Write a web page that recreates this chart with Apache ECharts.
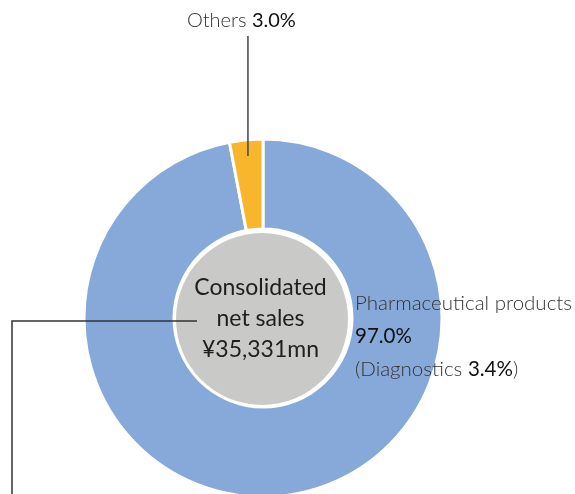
<!DOCTYPE html>
<html>
<head>
<meta charset="utf-8">
<script src="https://cdn.jsdelivr.net/npm/echarts@6/dist/echarts.min.js"></script>
<style>
  html, body { margin: 0; padding: 0; background: #fff; }
  #chart { width: 575px; height: 494px; }
</style>
</head>
<body>
<div id="chart"></div>
<script>
// Segment breakdown of consolidated net sales
const segmentNames = ['Pharmaceutical products', 'Others'];
const segmentShares = [97.0, 3.0];
const diagnosticsShare = 3.4;
const totalSalesText = '¥35,331mn';
const segmentColors = ['#86A9D9', '#F8B62D'];

const FONT = 'Lato';
const cx = 263, cy = 318, rOuter = 179, rInner = 89, rCore = 86;

const chart = echarts.init(document.getElementById('chart'), null, { renderer: 'canvas' });

// Angle (degrees clockwise from 12 o'clock) of the middle of the "Others" slice
const totalShare = segmentShares.reduce((a, b) => a + b, 0);
const othersMid = (segmentShares[0] + segmentShares[1] / 2) / totalShare * 360;
const leaderX = cx + 160 * Math.sin(othersMid * Math.PI / 180);

chart.setOption({
  animation: false,
  series: [
    {
      type: 'pie',
      center: [cx, cy],
      radius: [rInner, rOuter],
      startAngle: 90,
      clockwise: true,
      silent: true,
      z: 1,
      label: { show: false },
      labelLine: { show: false },
      itemStyle: { borderColor: '#fff', borderWidth: 3 },
      data: segmentNames.map((n, i) => ({
        name: n, value: segmentShares[i], itemStyle: { color: segmentColors[i] }
      }))
    },
    {
      type: 'pie',
      center: [cx - 1, cy + 1],
      radius: [0, rCore],
      silent: true,
      z: 2,
      label: {
        show: true,
        position: 'center',
        formatter: 'Consolidated\nnet sales\n' + totalSalesText,
        fontFamily: FONT,
        fontSize: 23,
        lineHeight: 31,
        padding: [16, 3, 0, 0],
        color: '#1e1e1e'
      },
      labelLine: { show: false },
      itemStyle: { color: '#C9CAC8' },
      data: [{ name: 'total', value: 1 }]
    }
  ],
  graphic: [
    {
      type: 'text',
      left: 187, top: 11, z: 100,
      style: {
        text: '{l|' + segmentNames[1] + ' }{b|' + segmentShares[1].toFixed(1) + '%}',
        rich: {
          l: { fontFamily: FONT, fontWeight: 300, fontSize: 20, fill: '#333' },
          b: { fontFamily: FONT, fontWeight: 400, fontSize: 20, fill: '#111' }
        }
      }
    },
    {
      type: 'line', z: 100,
      shape: { x1: leaderX, y1: 36, x2: leaderX, y2: 156 },
      style: { stroke: '#444', lineWidth: 1.5 }
    },
    {
      type: 'text',
      left: 355, top: 293, z: 100,
      style: {
        text: '{l|' + segmentNames[0] + '}\n{b|' + segmentShares[0].toFixed(1) + '%}\n{l|(Diagnostics }{b|' + diagnosticsShare.toFixed(1) + '%}{l|)}',
        rich: {
          l: { fontFamily: FONT, fontWeight: 300, fontSize: 20.5, lineHeight: 33, fill: '#333' },
          b: { fontFamily: FONT, fontWeight: 400, fontSize: 20.5, lineHeight: 33, fill: '#111' }
        }
      }
    },
    {
      type: 'polyline', z: 100,
      shape: { points: [[12, 500], [12, 321], [197, 321]] },
      style: { stroke: '#333', lineWidth: 1.5, fill: null }
    }
  ]
});
</script>
</body>
</html>
